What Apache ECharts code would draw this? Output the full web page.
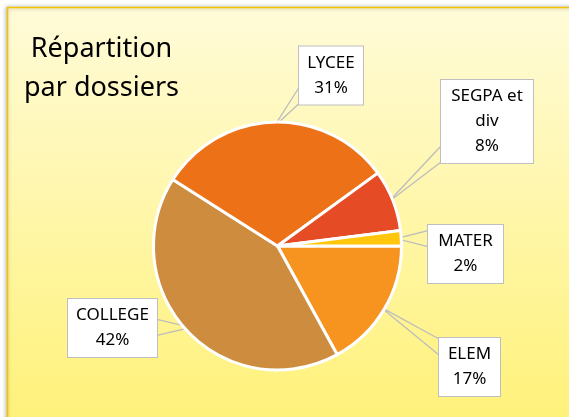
<!DOCTYPE html>
<html>
<head>
<meta charset="utf-8">
<script src="https://cdn.jsdelivr.net/npm/echarts@6/dist/echarts.min.js"></script>
<style>
  html, body { margin: 0; padding: 0; background: #fff; }
  #chart { width: 569px; height: 417px; }
</style>
</head>
<body>
<div id="chart"></div>
<script>
// slices, clockwise from 3 o'clock
const categories = ['ELEM', 'COLLEGE', 'LYCEE', 'SEGPA et\ndiv', 'MATER'];
const values = [17, 42, 31, 8, 2];
const colors = ['#F7941F', '#CE8C3E', '#EC7117', '#E54B24', '#FFC60B'];

// callout boxes: centre x, centre y, width (px)
const labelBoxes = [
  [469.5, 367, 61],
  [112.5, 328, 89],
  [331, 75.5, 64],
  [487, 121.5, 92],
  [465.5, 254, 75]
];

const pieCenter = [277.5, 246];

const chart = echarts.init(document.getElementById('chart'));

const option = {
  animation: false,
  graphic: [
    {
      type: 'rect',
      z: 0,
      shape: { x: 7.5, y: 7.5, width: 580, height: 430 },
      style: {
        fill: new echarts.graphic.LinearGradient(0, 0, 0, 1, [
          { offset: 0, color: '#FFFBD8' },
          { offset: 1, color: '#FFF176' }
        ]),
        stroke: '#F3C300',
        lineWidth: 1.5,
        shadowBlur: 4,
        shadowOffsetX: -1,
        shadowColor: 'rgba(0,0,0,0.3)'
      }
    }
  ],
  title: {
    text: 'Répartition\npar dossiers',
    left: 96.5,
    top: 25,
    textAlign: 'center',
    textStyle: {
      fontFamily: 'Noto Sans',
      fontSize: 27,
      fontWeight: 'normal',
      lineHeight: 39,
      color: '#000'
    }
  },
  series: [
    {
      type: 'pie',
      center: pieCenter,
      radius: 124,
      startAngle: 0,
      clockwise: true,
      avoidLabelOverlap: false,
      itemStyle: { borderColor: '#fff', borderWidth: 3 },
      label: {
        show: true,
        position: 'outside',
        formatter: '{b}\n{d}%',
        fontFamily: 'Noto Sans',
        fontSize: 17,
        lineHeight: 25,
        color: '#000',
        backgroundColor: '#fff',
        borderColor: '#BFBFBF',
        borderWidth: 1,
        padding: [4, 6]
      },
      labelLine: {
        show: true,
        lineStyle: { color: '#BDBDBD', width: 1.3 }
      },
      labelLayout: function (params) {
        const box = labelBoxes[params.dataIndex];
        const h = params.labelRect.height;
        const top = box[1] - h / 2;
        const bottom = box[1] + h / 2;
        // pull the callout tip a little inside the slice edge
        const p = params.labelLinePoints[0];
        const dx = p[0] - pieCenter[0];
        const dy = p[1] - pieCenter[1];
        const r = Math.sqrt(dx * dx + dy * dy);
        const k = (r - 5) / r;
        const anchor = [pieCenter[0] + dx * k, pieCenter[1] + dy * k];
        const side = anchor[0] < box[0] ? box[0] - box[2] / 2 : box[0] + box[2] / 2;
        const y = Math.min(Math.max(anchor[1], top + 10), bottom - 10);
        return {
          x: box[0],
          y: box[1],
          align: 'center',
          verticalAlign: 'middle',
          width: box[2] - 12,
          labelLinePoints: [[side, y - 8], anchor, [side, y + 8]]
        };
      },
      data: categories.map(function (name, i) {
        return { name: name, value: values[i], itemStyle: { color: colors[i] } };
      })
    }
  ]
};

chart.setOption(option);
</script>
</body>
</html>
